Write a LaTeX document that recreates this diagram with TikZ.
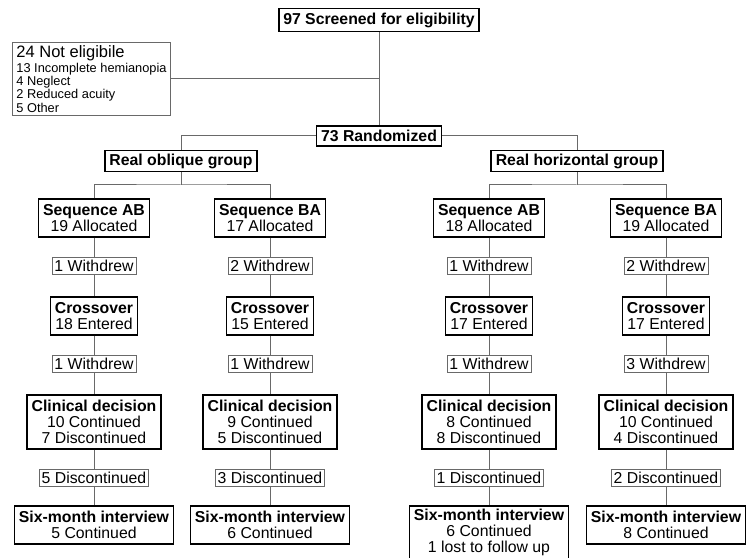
\documentclass[tikz,border=0pt]{standalone}
\usepackage{fontspec}
\setmainfont{Liberation Sans}
\usetikzlibrary{positioning}
\definecolor{lngray}{RGB}{105,105,105}
\newcommand{\flowfont}{\fontsize{15.8bp}{15.8bp}\selectfont}
\newcommand{\smallflow}{\fontsize{12.8bp}{13bp}\selectfont}
\tikzstyle{main} = [draw=black, line width=1.7bp, fill=white, align=center, inner xsep=4.5bp, inner ysep=5.2bp, font=\flowfont]
\tikzstyle{head} = [main, inner ysep=4bp, font=\flowfont\bfseries]
\tikzstyle{loss} = [draw=lngray, line width=0.9bp, fill=white, align=center, inner xsep=2.5bp, inner ysep=3bp, font=\flowfont]
\tikzstyle{link} = [draw=lngray, line width=1bp]

\begin{document}
\begin{tikzpicture}[x=1bp, y=-1bp]
\useasboundingbox (0,0) rectangle (746,558);

% Screening
\node[head] (screen) at (379,20) {97 Screened for eligibility};
\node[loss, anchor=west, align=left, inner xsep=4bp, inner ysep=3.5bp] (noteli) at (12,79)
  {{\fontsize{16.5bp}{16.5bp}\selectfont 24 Not eligibile}\\[-1bp]
   {\smallflow 13 Incomplete hemianopia}\\[-2.5bp]
   {\smallflow 4 Neglect}\\[-2.5bp]
   {\smallflow 2 Reduced acuity}\\[-2.5bp]
   {\smallflow 5 Other}};
\node[head] (rand) at (379,136) {73 Randomized};
\coordinate (j0) at (screen.south |- noteli.east);

\draw[link] (screen) -- (rand);
\draw[link] (noteli.east) -- (j0);

% Groups
\node[head, inner ysep=3bp] (obl) at (181,161) {Real oblique group};
\node[head, inner ysep=3bp] (hor) at (577,161) {Real horizontal group};
\draw[link] (rand.west) -| (obl.north);
\draw[link] (rand.east) -| (hor.north);

% Real oblique, sequence AB
\node[main] (oAB) at (94,218) {\textbf{Sequence AB}\\19 Allocated};
\node[loss] (oABw1) at (94,266) {1 Withdrew};
\node[main] (oABc) at (94,316) {\textbf{Crossover}\\18 Entered};
\node[loss] (oABw2) at (94,364) {1 Withdrew};
\node[main] (oABd) at (94,422) {\textbf{Clinical decision}\\10 Continued\\7 Discontinued};
\node[loss] (oABx) at (94,478) {5 Discontinued};
\node[main, anchor=north] (oABs) at (94,505) {\textbf{Six-month interview}\\5 Continued};

% Real oblique, sequence BA
\node[main] (oBA) at (270,218) {\textbf{Sequence BA}\\17 Allocated};
\node[loss] (oBAw1) at (270,266) {2 Withdrew};
\node[main] (oBAc) at (270,316) {\textbf{Crossover}\\15 Entered};
\node[loss] (oBAw2) at (270,364) {1 Withdrew};
\node[main] (oBAd) at (270,422) {\textbf{Clinical decision}\\9 Continued\\5 Discontinued};
\node[loss] (oBAx) at (270,478) {3 Discontinued};
\node[main, anchor=north] (oBAs) at (270,505) {\textbf{Six-month interview}\\6 Continued};

% Real horizontal, sequence AB
\node[main] (hAB) at (489,218) {\textbf{Sequence AB}\\18 Allocated};
\node[loss] (hABw1) at (489,266) {1 Withdrew};
\node[main] (hABc) at (489,316) {\textbf{Crossover}\\17 Entered};
\node[loss] (hABw2) at (489,364) {1 Withdrew};
\node[main] (hABd) at (489,422) {\textbf{Clinical decision}\\8 Continued\\8 Discontinued};
\node[loss] (hABx) at (489,478) {1 Discontinued};
\node[main, anchor=north, inner ysep=3.5bp] (hABs) at (489,505) {\textbf{Six-month interview}\\6 Continued\\1 lost to follow up};

% Real horizontal, sequence BA
\node[main] (hBA) at (666,218) {\textbf{Sequence BA}\\19 Allocated};
\node[loss] (hBAw1) at (666,266) {2 Withdrew};
\node[main] (hBAc) at (666,316) {\textbf{Crossover}\\17 Entered};
\node[loss] (hBAw2) at (666,364) {3 Withdrew};
\node[main] (hBAd) at (666,422) {\textbf{Clinical decision}\\10 Continued\\4 Discontinued};
\node[loss] (hBAx) at (666,478) {2 Discontinued};
\node[main, anchor=north] (hBAs) at (666,505) {\textbf{Six-month interview}\\8 Continued};

% Branches
\coordinate (os) at (obl.south |- 0,185);
\coordinate (hs) at (hor.south |- 0,185);
\draw[link] (obl.south) -- (os);
\draw[link] (oAB.north) |- (os) -| (oBA.north);
\draw[link] (hor.south) -- (hs);
\draw[link] (hAB.north) |- (hs) -| (hBA.north);

% Columns
\draw[link] (oAB) -- (oABw1) -- (oABc) -- (oABw2) -- (oABd) -- (oABx) -- (oABs);
\draw[link] (oBA) -- (oBAw1) -- (oBAc) -- (oBAw2) -- (oBAd) -- (oBAx) -- (oBAs);
\draw[link] (hAB) -- (hABw1) -- (hABc) -- (hABw2) -- (hABd) -- (hABx) -- (hABs);
\draw[link] (hBA) -- (hBAw1) -- (hBAc) -- (hBAw2) -- (hBAd) -- (hBAx) -- (hBAs);
\end{tikzpicture}
\end{document}
